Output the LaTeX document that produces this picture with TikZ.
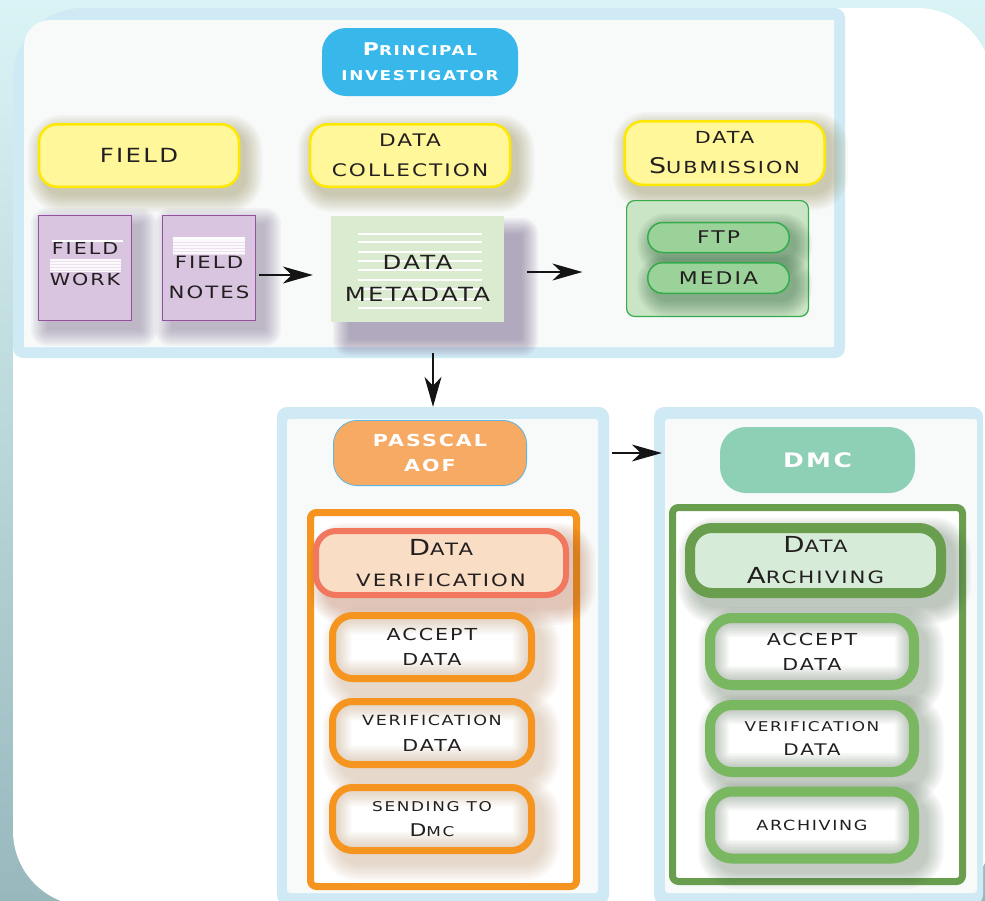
\documentclass[tikz,border=0pt]{standalone}
\usepackage{fontspec}
\usepackage{graphicx}
\usetikzlibrary{arrows.meta}
\newfontfamily\wf[FakeStretch=1.25,LetterSpace=12]{DejaVu Sans}
\newcommand\tsz[2]{\wf\fontsize{#1}{#2}\selectfont}
\newcommand\upc[1]{\scalebox{1.3}{#1}}
\definecolor{bgtop}{RGB}{218,244,246}
\definecolor{bgbot}{RGB}{152,184,189}
\definecolor{cpb}{RGB}{207,234,245}
\definecolor{cpf}{RGB}{248,250,250}
\definecolor{cpi}{RGB}{56,184,234}
\definecolor{cyf}{RGB}{255,247,153}
\definecolor{cyd}{RGB}{255,232,0}
\definecolor{ysh}{RGB}{140,130,70}
\definecolor{cvf}{RGB}{217,197,224}
\definecolor{cvd}{RGB}{150,80,160}
\definecolor{vsh}{RGB}{110,90,130}
\definecolor{cmf}{RGB}{218,235,208}
\definecolor{cgf}{RGB}{202,229,198}
\definecolor{cgd}{RGB}{52,172,76}
\definecolor{cpill}{RGB}{155,210,154}
\definecolor{pillsh}{RGB}{40,90,50}
\definecolor{caof}{RGB}{247,170,100}
\definecolor{caofd}{RGB}{90,182,224}
\definecolor{corg}{RGB}{245,149,31}
\definecolor{cdvf}{RGB}{249,221,196}
\definecolor{cdvd}{RGB}{242,119,95}
\definecolor{dvsh}{RGB}{170,90,50}
\definecolor{tansh}{RGB}{185,140,95}
\definecolor{cdmc}{RGB}{142,208,181}
\definecolor{cdg}{RGB}{106,158,79}
\definecolor{clg}{RGB}{121,184,97}
\definecolor{cdaf}{RGB}{215,236,216}
\definecolor{gsh}{RGB}{70,95,70}
\definecolor{txt}{RGB}{35,31,32}
% soft shadow: x1 y1 x2 y2 radius colour opacity
\newcommand\shd[7]{\foreach \k in {0,...,8}{\fill[#6,fill opacity=#7,rounded corners={#5+\k*2}] ({#1-\k*2},{#2-\k*2}) rectangle ({#3+\k*2},{#4+\k*2});}}
\begin{document}
\begin{tikzpicture}[x=1pt,y=-1pt,
  box/.style={align=center, inner sep=0pt, text=txt},
  ybox/.style={box, fill=cyf, draw=cyd, line width=2.5pt, rounded corners=18pt, minimum width=200pt, minimum height=62.5pt},
  doc/.style={fill=cvf, draw=cvd, line width=1.2pt, minimum width=92.8pt, minimum height=104.8pt, inner sep=0pt},
  pill/.style={box, fill=cpill, draw=cgd, line width=1.5pt, rounded corners=15pt, minimum width=141.5pt, minimum height=30pt, font=\tsz{17.5}{20}},
  inglow/.style={path picture={\foreach \w in {8,11,...,38}{\draw[#1, opacity=0.035, line width=\w pt, rounded corners=20pt] (path picture bounding box.north west) rectangle (path picture bounding box.south east);}}},
  obox/.style={box, fill=white, draw=corg, line width=7pt, rounded corners=20pt, minimum width=199pt, minimum height=63pt, inglow=tansh},
  gbox/.style={box, fill=white, draw=clg, line width=10pt, rounded corners=22pt, minimum width=204pt, minimum height=67pt, inglow=gsh},
  conn/.style={-{Stealth[length=30pt,width=17pt,inset=9pt]}, line width=1.1pt, draw=black!92}]
\useasboundingbox (0,0) rectangle (985,900);
\shade[top color=bgtop, bottom color=bgbot] (0,0) rectangle (985,900);
\fill[white, rounded corners=75pt] (13,8) rectangle (992,906);

% top panel
\fill[cpb] (13,78) .. controls (13,39.3) and (44.3,8) .. (83,8) -- (835,8)
  .. controls (840.5,8) and (845,12.5) .. (845,18) -- (845,348)
  .. controls (845,353.5) and (840.5,358) .. (835,358) -- (23,358)
  .. controls (17.5,358) and (13,353.5) .. (13,348) -- cycle;
\fill[cpf] (24,46) .. controls (24,31.6) and (35.6,20) .. (50,20) -- (834,20) -- (834,347) -- (24,347) -- cycle;
\coordinate (topS) at (433,353);

% lower panels
\node[fill=cpb, rounded corners=10pt, minimum width=332pt, minimum height=498pt, inner sep=0pt] (pp) at (443,656) {};
\node[fill=cpb, rounded corners=10pt, minimum width=329pt, minimum height=498pt, inner sep=0pt] (dp) at (818.5,656) {};
\fill[cpf, rounded corners=3pt] (287,419) rectangle (598,893);
\fill[cpf, rounded corners=3pt] (665,419) rectangle (977,893);

% principal investigator
\node[box, fill=cpi, rounded corners=24pt, minimum width=196pt, minimum height=68pt, text=white, font=\tsz{13.5}{25}\bfseries] (pinv) at (420,62) {\upc{P}RINCIPAL\\INVESTIGATOR};

% yellow headers
\shd{44}{131}{246}{196}{18}{ysh}{0.05}
\shd{314}{131}{518}{196}{18}{ysh}{0.05}
\shd{629}{128}{832}{194}{18}{ysh}{0.05}
\node[ybox, font=\tsz{19.5}{24}] (field) at (139,155.5) {FIELD};
\node[ybox, font=\tsz{17.3}{30}] (dcoll) at (410,155.5) {DATA\\COLLECTION};
\node[ybox, minimum height=63.5pt, font=\tsz{16.6}{30}] (dsub) at (724.5,153) {DATA\\\upc{S}UBMISSION};

% field documents
\shd{47}{224}{141}{330}{0}{vsh}{0.055}
\shd{171}{224}{265}{330}{0}{vsh}{0.055}
\node[doc] (fwork) at (85,268) {};
\node[doc] (fnotes) at (209,268) {};
\fill[white, opacity=0.9] (50,259) rectangle (121,272);
\foreach \yy in {261.5,264.5,267.5,270.5} \draw[cvf!50, line width=0.4pt] (50,\yy) -- (121,\yy);
\draw[white, line width=1.2pt] (52,241) -- (123,241);
\fill[white, opacity=0.9] (173,239) rectangle (245,255);
\foreach \yy in {242,245,248,251,254} \draw[cvf!50, line width=0.4pt] (173,\yy) -- (245,\yy);
\draw[white, line width=1.2pt] (173,238) -- (245,238);
\node[box, font=\tsz{16.5}{31}] (fworkt) at (85,264) {FIELD\\WORK};
\node[box, font=\tsz{17}{30}] (fnotest) at (209,277.5) {FIELD\\NOTES};

% data metadata
\shd{349}{234}{522}{340}{0}{vsh}{0.07}
\node[fill=cmf, minimum width=173pt, minimum height=106pt, inner sep=0pt] (meta) at (417.5,269) {};
\foreach \yy in {234,242,252,261,270,280,289,299,308} \draw[white, line width=1.3pt] (358,\yy) -- (482,\yy);
\node[box, font=\tsz{19.5}{32}] (metat) at (417.5,278) {DATA\\METADATA};

% submission group
\node[fill=cgf, draw=cgd, line width=1.2pt, rounded corners=8pt, minimum width=181.8pt, minimum height=115.8pt, inner sep=0pt] (subgrp) at (717.5,258.5) {};
\shd{653}{229}{796}{260}{15}{pillsh}{0.055}
\shd{653}{269}{796}{301}{15}{pillsh}{0.055}
\node[pill] (ftp) at (718.5,237.5) {FTP};
\node[pill, minimum height=30.5pt] (media) at (718.5,278) {MEDIA};

% top arrows
\draw[conn, shorten <=2.6pt, shorten >=18pt] ([yshift=-7pt]fnotes.east) -- ([yshift=-6pt]meta.west);
\draw[conn, shorten <=23pt, shorten >=43.6pt] ([yshift=-3pt]meta.east) -- ([yshift=-13.5pt]subgrp.west);
\draw[conn] (topS) -- (topS |- pp.north);

% PASSCAL column
\node[box, fill=caof, draw=caofd, line width=0.8pt, rounded corners=24pt, minimum width=193.2pt, minimum height=65.2pt, text=white, font=\tsz{16.5}{25}\bfseries] (aof) at (430,453) {PASSCAL\\AOF};
\draw[conn, shorten <=3pt, shorten >=-8pt] (pp.east |- aof.center) -- (dp.west |- aof.center);
\node[draw=corg, line width=7pt, fill=white, rounded corners=6pt, minimum width=266pt, minimum height=374pt, inner sep=0pt] (oframe) at (443.5,699.5) {};
\shd{325}{539}{579}{609}{20}{dvsh}{0.045}
\node[box, fill=cdvf, draw=cdvd, line width=6pt, rounded corners=20pt, minimum width=250pt, minimum height=64pt, font=\tsz{17}{31}] (dver) at (441,563) {\upc{D}ATA\\VERIFICATION};
\shd{338}{623}{544}{693}{20}{tansh}{0.04}
\shd{338}{709}{544}{779}{20}{tansh}{0.04}
\shd{338}{795}{544}{865}{20}{tansh}{0.04}
\node[obox, font=\tsz{16.5}{25}] (acc1) at (432,647) {ACCEPT\\DATA};
\node[obox, font=\tsz{14}{26}] (ver1) at (432,733) {VERIFICATION\\{\fontsize{16.5}{26}\selectfont DATA}};
\node[obox, font=\tsz{13.5}{25}] (send) at (432,819) {SENDING TO\\\upc{D}MC};

% DMC column
\node[box, fill=cdmc, rounded corners=26pt, minimum width=195pt, minimum height=66pt, text=white, font=\tsz{20}{24}\bfseries] (dmc) at (817.5,460) {DMC};
\node[draw=cdg, line width=7pt, fill=white, rounded corners=6pt, minimum width=290pt, minimum height=374pt, inner sep=0pt] (gframe) at (817.5,694.5) {};
\shd{694}{533}{955}{608}{22}{gsh}{0.045}
\node[box, fill=cdaf, draw=cdg, line width=10pt, rounded corners=22pt, minimum width=251pt, minimum height=65pt, font=\tsz{17}{31}] (darch) at (815.5,560.5) {\upc{D}ATA\\\upc{A}RCHIVING};
\shd{714}{623}{928}{700}{22}{gsh}{0.04}
\shd{714}{710}{928}{787}{22}{gsh}{0.04}
\shd{714}{797}{928}{873}{22}{gsh}{0.04}
\node[gbox, font=\tsz{16.5}{25}] (acc2) at (812,651.5) {ACCEPT\\DATA};
\node[gbox, font=\tsz{13.5}{24}] (ver2) at (812,738.5) {VERIFICATION\\{\fontsize{16}{24}\selectfont DATA}};
\node[gbox, font=\tsz{14}{20}] (arch) at (812,825) {ARCHIVING};
\end{tikzpicture}
\end{document}
